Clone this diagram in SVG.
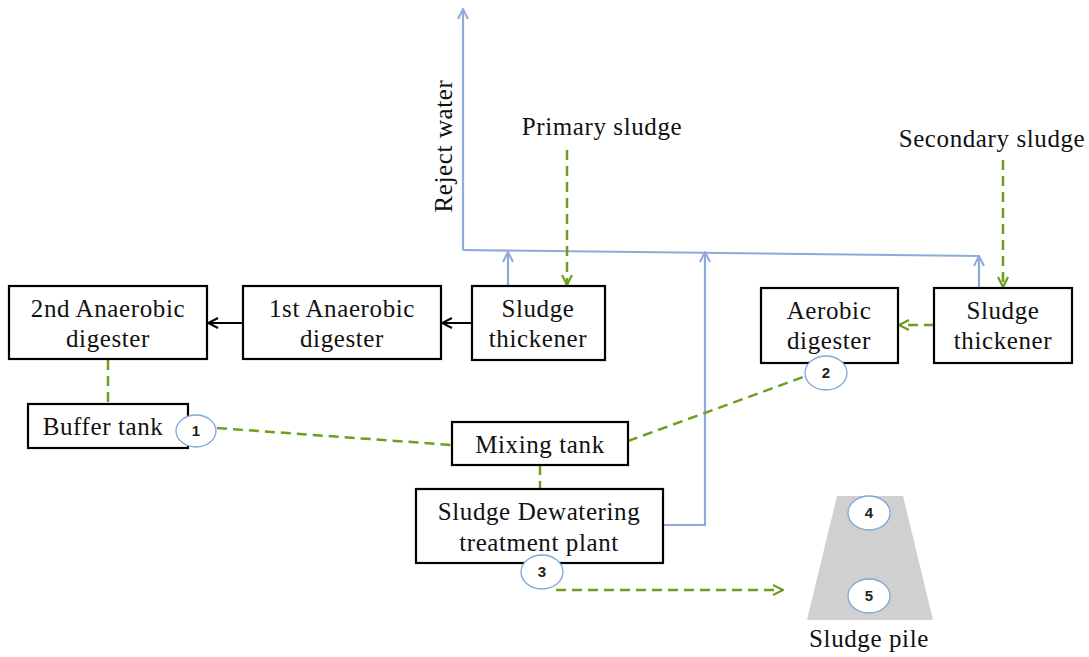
<svg xmlns="http://www.w3.org/2000/svg" width="1089" height="657" viewBox="0 0 1089 657">
<defs>
<style>
.box{fill:#fff;stroke:#000;stroke-width:2.2}
.t{font-family:"Liberation Serif","Times New Roman",serif;font-size:25px;letter-spacing:0.6px;fill:#111;text-anchor:middle}
.n{font-family:"Liberation Sans",Arial,sans-serif;font-size:15px;font-weight:bold;fill:#222;text-anchor:middle}
.c{fill:#fff;stroke:#7fa7d9;stroke-width:1.3}
.blue{fill:none;stroke:#8eaadb;stroke-width:2.2}
.green{fill:none;stroke:#6e9e1e;stroke-width:2.5;stroke-dasharray:10 6}
.black{fill:none;stroke:#000;stroke-width:2}
</style>
<marker id="ab" viewBox="0 0 12 12" refX="11" refY="6" markerWidth="12" markerHeight="12" markerUnits="userSpaceOnUse" orient="auto"><path d="M1,1 L11,6 L1,11" fill="none" stroke="#8eaadb" stroke-width="2"/></marker>
<marker id="ag" viewBox="0 0 12 12" refX="11" refY="6" markerWidth="12" markerHeight="12" markerUnits="userSpaceOnUse" orient="auto"><path d="M1,1 L11,6 L1,11" fill="none" stroke="#6e9e1e" stroke-width="2.2"/></marker>
<marker id="ak" viewBox="0 0 12 12" refX="11" refY="6" markerWidth="12" markerHeight="12" markerUnits="userSpaceOnUse" orient="auto"><path d="M1,1 L11,6 L1,11" fill="none" stroke="#000" stroke-width="2"/></marker>
</defs>
<rect width="1089" height="657" fill="#fff"/>
<g id="connectors">
<path class="blue" d="M463,250 L463,9" marker-end="url(#ab)"/>
<path class="blue" d="M463,250 L979,256"/>
<path class="blue" d="M508,286 L508,252" marker-end="url(#ab)"/>
<path class="blue" d="M979,288 L979,256" marker-end="url(#ab)"/>
<path class="blue" d="M663,525 L705,525 L705,252" marker-end="url(#ab)"/>
<path class="green" d="M567,150 L567,285" marker-end="url(#ag)"/>
<path class="green" d="M1003,160 L1003,287" marker-end="url(#ag)"/>
<path class="green" d="M934,325 L899,325" marker-end="url(#ag)"/>
<path class="green" d="M108,360 L108,404"/>
<path class="green" d="M217,428 L452,445"/>
<path class="green" d="M628,441 L806,376"/>
<path class="green" d="M540,465 L540,489"/>
<path class="green" d="M556,590 L783,590" marker-end="url(#ag)"/>
<path class="black" d="M243,323 L208,323" marker-end="url(#ak)"/>
<path class="black" d="M472,323 L442,323" marker-end="url(#ak)"/>
</g>
<g id="labels">
<text class="t" x="602" y="135">Primary sludge</text>
<text class="t" x="992" y="147">Secondary sludge</text>
<text class="t" transform="translate(452,146) rotate(-90)">Reject water</text>
</g>
<g id="anaerobic2"><rect class="box" x="9" y="286" width="198" height="73"/><text class="t" x="108" y="317">2nd Anaerobic</text><text class="t" x="108" y="347">digester</text></g>
<g id="anaerobic1"><rect class="box" x="243" y="286" width="198" height="73"/><text class="t" x="342" y="317">1st Anaerobic</text><text class="t" x="342" y="347">digester</text></g>
<g id="thickener1"><rect class="box" x="472" y="286" width="133" height="74"/><text class="t" x="538" y="317">Sludge</text><text class="t" x="538" y="347">thickener</text></g>
<g id="aerobic"><rect class="box" x="761" y="288" width="137" height="75"/><text class="t" x="829" y="319">Aerobic</text><text class="t" x="829" y="349">digester</text></g>
<g id="thickener2"><rect class="box" x="934" y="288" width="138" height="75"/><text class="t" x="1003" y="319">Sludge</text><text class="t" x="1003" y="349">thickener</text></g>
<g id="buffer"><rect class="box" x="28" y="404" width="160" height="44"/><text class="t" x="103" y="435">Buffer tank</text></g>
<g id="mixing"><rect class="box" x="452" y="422" width="176" height="43"/><text class="t" x="540" y="453">Mixing tank</text></g>
<g id="dewatering"><rect class="box" x="416" y="489" width="247" height="74"/><text class="t" x="539" y="520">Sludge Dewatering</text><text class="t" x="539" y="551">treatment plant</text></g>
<g id="pile"><polygon points="837,496 903,496 933,620 807,620" fill="#d0d0d0"/><text class="t" x="869" y="647">Sludge pile</text></g>
<g id="c1"><ellipse class="c" cx="196" cy="431" rx="20" ry="16"/><text class="n" x="196" y="436">1</text></g>
<g id="c2"><ellipse class="c" cx="826" cy="373" rx="21" ry="17"/><text class="n" x="826" y="378">2</text></g>
<g id="c3"><ellipse class="c" cx="542" cy="572" rx="21" ry="17"/><text class="n" x="542" y="577">3</text></g>
<g id="c4"><ellipse class="c" cx="869" cy="513" rx="21" ry="17"/><text class="n" x="869" y="518">4</text></g>
<g id="c5"><ellipse class="c" cx="869" cy="596" rx="21" ry="17"/><text class="n" x="869" y="601">5</text></g>
</svg>
